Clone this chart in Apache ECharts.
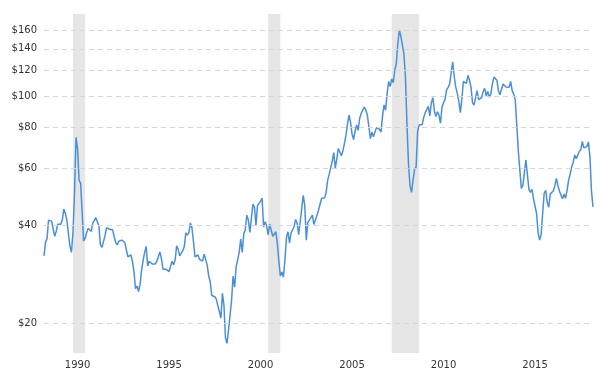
<!DOCTYPE html>
<html><head><meta charset="utf-8">
<script src="https://cdn.jsdelivr.net/npm/echarts@6/dist/echarts.min.js"></script>
<style>html,body{margin:0;padding:0;background:#fff}#c{width:600px;height:372px}</style>
</head><body><div id="c"></div>
<script>
const startYear = 1988, startMonth = 12;
const prices1988_1997 = [
  32.2,
  35.5, 36.4, 41.5, 41.7, 41.2, 40.7, 37, 38.3, 40.3, 39.8, 40.3, 41.5,
  44.9, 43.5, 41.5, 37.8, 34.5, 33, 38, 50, 74.7, 69, 55, 54,
  44, 35.8, 36.5, 38, 39.2, 39, 38.3, 40.7, 41, 42.2, 41.7, 39.8,
  34.8, 34.2, 34.3, 37.1, 39.3, 39.5, 38.9, 38.9, 38.7, 37, 35.4, 34.8,
  35.7, 36, 36, 35.9, 35.4, 33.6, 32, 31.6, 32.4, 31, 28.8, 25.5,
  26, 25, 26.3, 29.1, 31.2, 33, 34.4, 30, 31, 30.8, 30.4, 30,
  30.4, 31, 31.3, 33.1, 31.6, 29.3, 29, 29.3, 29, 28.8, 29, 31,
  30.2, 31.3, 34.6, 33.7, 32.2, 32.6, 33.4, 34.4, 37.9, 37.3, 38, 40.7,
  39.3, 35.7, 32, 32, 32.4, 31.4, 31.6, 31, 32.6, 32.8, 30.2, 27.9
];
const prices1998_2007 = [
  26.8, 24.3, 24.2, 24.1, 23.7, 22.6, 21.7, 20.7, 24.7, 22.7, 18, 17.3,
  19, 18.8, 23.5, 27.9, 25.8, 29.8, 31.3, 33, 36.3, 33, 37.7, 38.7,
  43, 41.5, 38, 42, 46.5, 45.5, 40, 46, 46, 47.5, 48.5, 39.5,
  41, 39.8, 37.4, 40.3, 40.5, 37, 37, 38.2, 35.3, 31, 27.9, 28.7,
  27.7, 31.3, 36.7, 38.2, 35.3, 37.9, 38, 39.6, 41.7, 40.6, 37.4, 37.9,
  45, 49.5, 46, 36, 40.9, 41.5, 42, 43, 40.2, 39.8, 43, 44.5,
  44.8, 48.4, 48.2, 48.6, 50.5, 55, 57.5, 58, 63, 67, 60, 64,
  69, 69, 65.5, 67.8, 71.4, 75.7, 82, 87.5, 83, 76.5, 73.5, 78,
  81.5, 78.5, 85.5, 88.5, 90.5, 92.5, 90.7, 87.5, 81, 74, 77.5, 75,
  74.5, 80, 80.6, 79, 77.5, 87, 94, 90.5, 102, 111, 107, 113
];
const prices2008_2018 = [
  110, 120, 126, 145, 160, 153, 144, 135, 115, 82, 62, 53,
  50.5, 55, 59.5, 60.5, 78, 81.5, 81.5, 81.8, 86, 89, 90, 93,
  87, 95.5, 99, 90, 86.5, 89.5, 87.5, 82.5, 92.7, 93.8, 98, 104.5,
  106.5, 109, 118, 127.7, 115, 106.7, 102, 96.5, 89, 98, 111, 110,
  109.6, 116, 112, 106.5, 95.5, 93.8, 99, 104, 97.5, 97, 99, 103.5,
  105.7, 100, 103.5, 99.3, 101.5, 109, 114.5, 115.7, 112, 104, 101, 105,
  109, 108.5, 106.7, 107, 106.5, 111, 104, 101.5, 97.5, 82, 68, 59.5,
  52, 53, 53, 63.6, 63.5, 51.5, 50.5, 51.6, 48.2, 48.5, 43.5, 38,
  36, 37.5, 43.6, 50.3, 51.3, 47, 45.5, 50, 49.3, 51, 53, 55.8,
  53, 51, 49.5, 48.3, 49.9, 48.5, 51.3, 55, 57.5, 60.5, 62.5, 65.9,
  64.2, 63.5, 67.5, 68.5, 72.5, 69.3, 69.7, 70, 72.3, 65, 51, 45.6
];
const yTicks = [20, 40, 60, 80, 100, 120, 140, 160];
const xLabelMonths = ['1990-10', '1995-10', '2000-10', '2005-10', '2010-10', '2015-10'];
const recessions = [['1990-07', '1991-03'], ['2001-03', '2001-11'], ['2007-12', '2009-06']];

const prices = prices1988_1997.concat(prices1998_2007, prices2008_2018);
const months = [];
for (let i = 0; i < prices.length; i++) {
  const t = (startMonth - 1) + i;
  const y = startYear + Math.floor(t / 12);
  const m = t % 12 + 1;
  months.push(y + '-' + String(m).padStart(2, '0'));
}

const chart = echarts.init(document.getElementById('c'), null, {renderer: 'canvas'});
chart.setOption({
  animation: false,
  backgroundColor: '#ffffff',
  grid: {left: 44, right: 7, top: 14, bottom: 19},
  xAxis: {
    type: 'category',
    data: months,
    boundaryGap: false,
    axisLine: {show: false},
    axisTick: {show: false},
    splitLine: {show: false},
    axisLabel: {
      interval: 0,
      hideOverlap: false,
      formatter: function (v) { return xLabelMonths.indexOf(v) >= 0 ? v.slice(0, 4) : ''; },
      color: '#333', fontSize: 10, fontFamily: 'DejaVu Sans', margin: 7
    }
  },
  yAxis: {
    type: 'log',
    logBase: 10,
    min: 16.16,
    max: 179.2,
    axisLine: {show: false},
    axisTick: {show: false, customValues: yTicks},
    axisLabel: {
      customValues: yTicks,
      formatter: function (v) { return '$' + Math.round(v); },
      color: '#333', fontSize: 10, fontFamily: 'DejaVu Sans', margin: 7
    },
    splitLine: {show: false}
  },
  series: [{
    type: 'line',
    z: 1,
    data: [],
    silent: true,
    markArea: {
      silent: true,
      itemStyle: {color: '#e6e6e6'},
      data: recessions.map(function (r) { return [{xAxis: r[0]}, {xAxis: r[1]}]; })
    }
  }, {
    type: 'line',
    z: 2,
    data: [],
    silent: true,
    markLine: {
      silent: true,
      symbol: ['none', 'none'],
      label: {show: false},
      lineStyle: {color: '#d6d6d6', type: [5, 4], width: 1},
      data: yTicks.map(function (v) { return {yAxis: v}; })
    }
  }, {
    type: 'line',
    z: 3,
    data: prices,
    showSymbol: false,
    symbol: 'none',
    lineStyle: {color: '#4a90d9', width: 1.5}
  }]
});
</script>
</body></html>
